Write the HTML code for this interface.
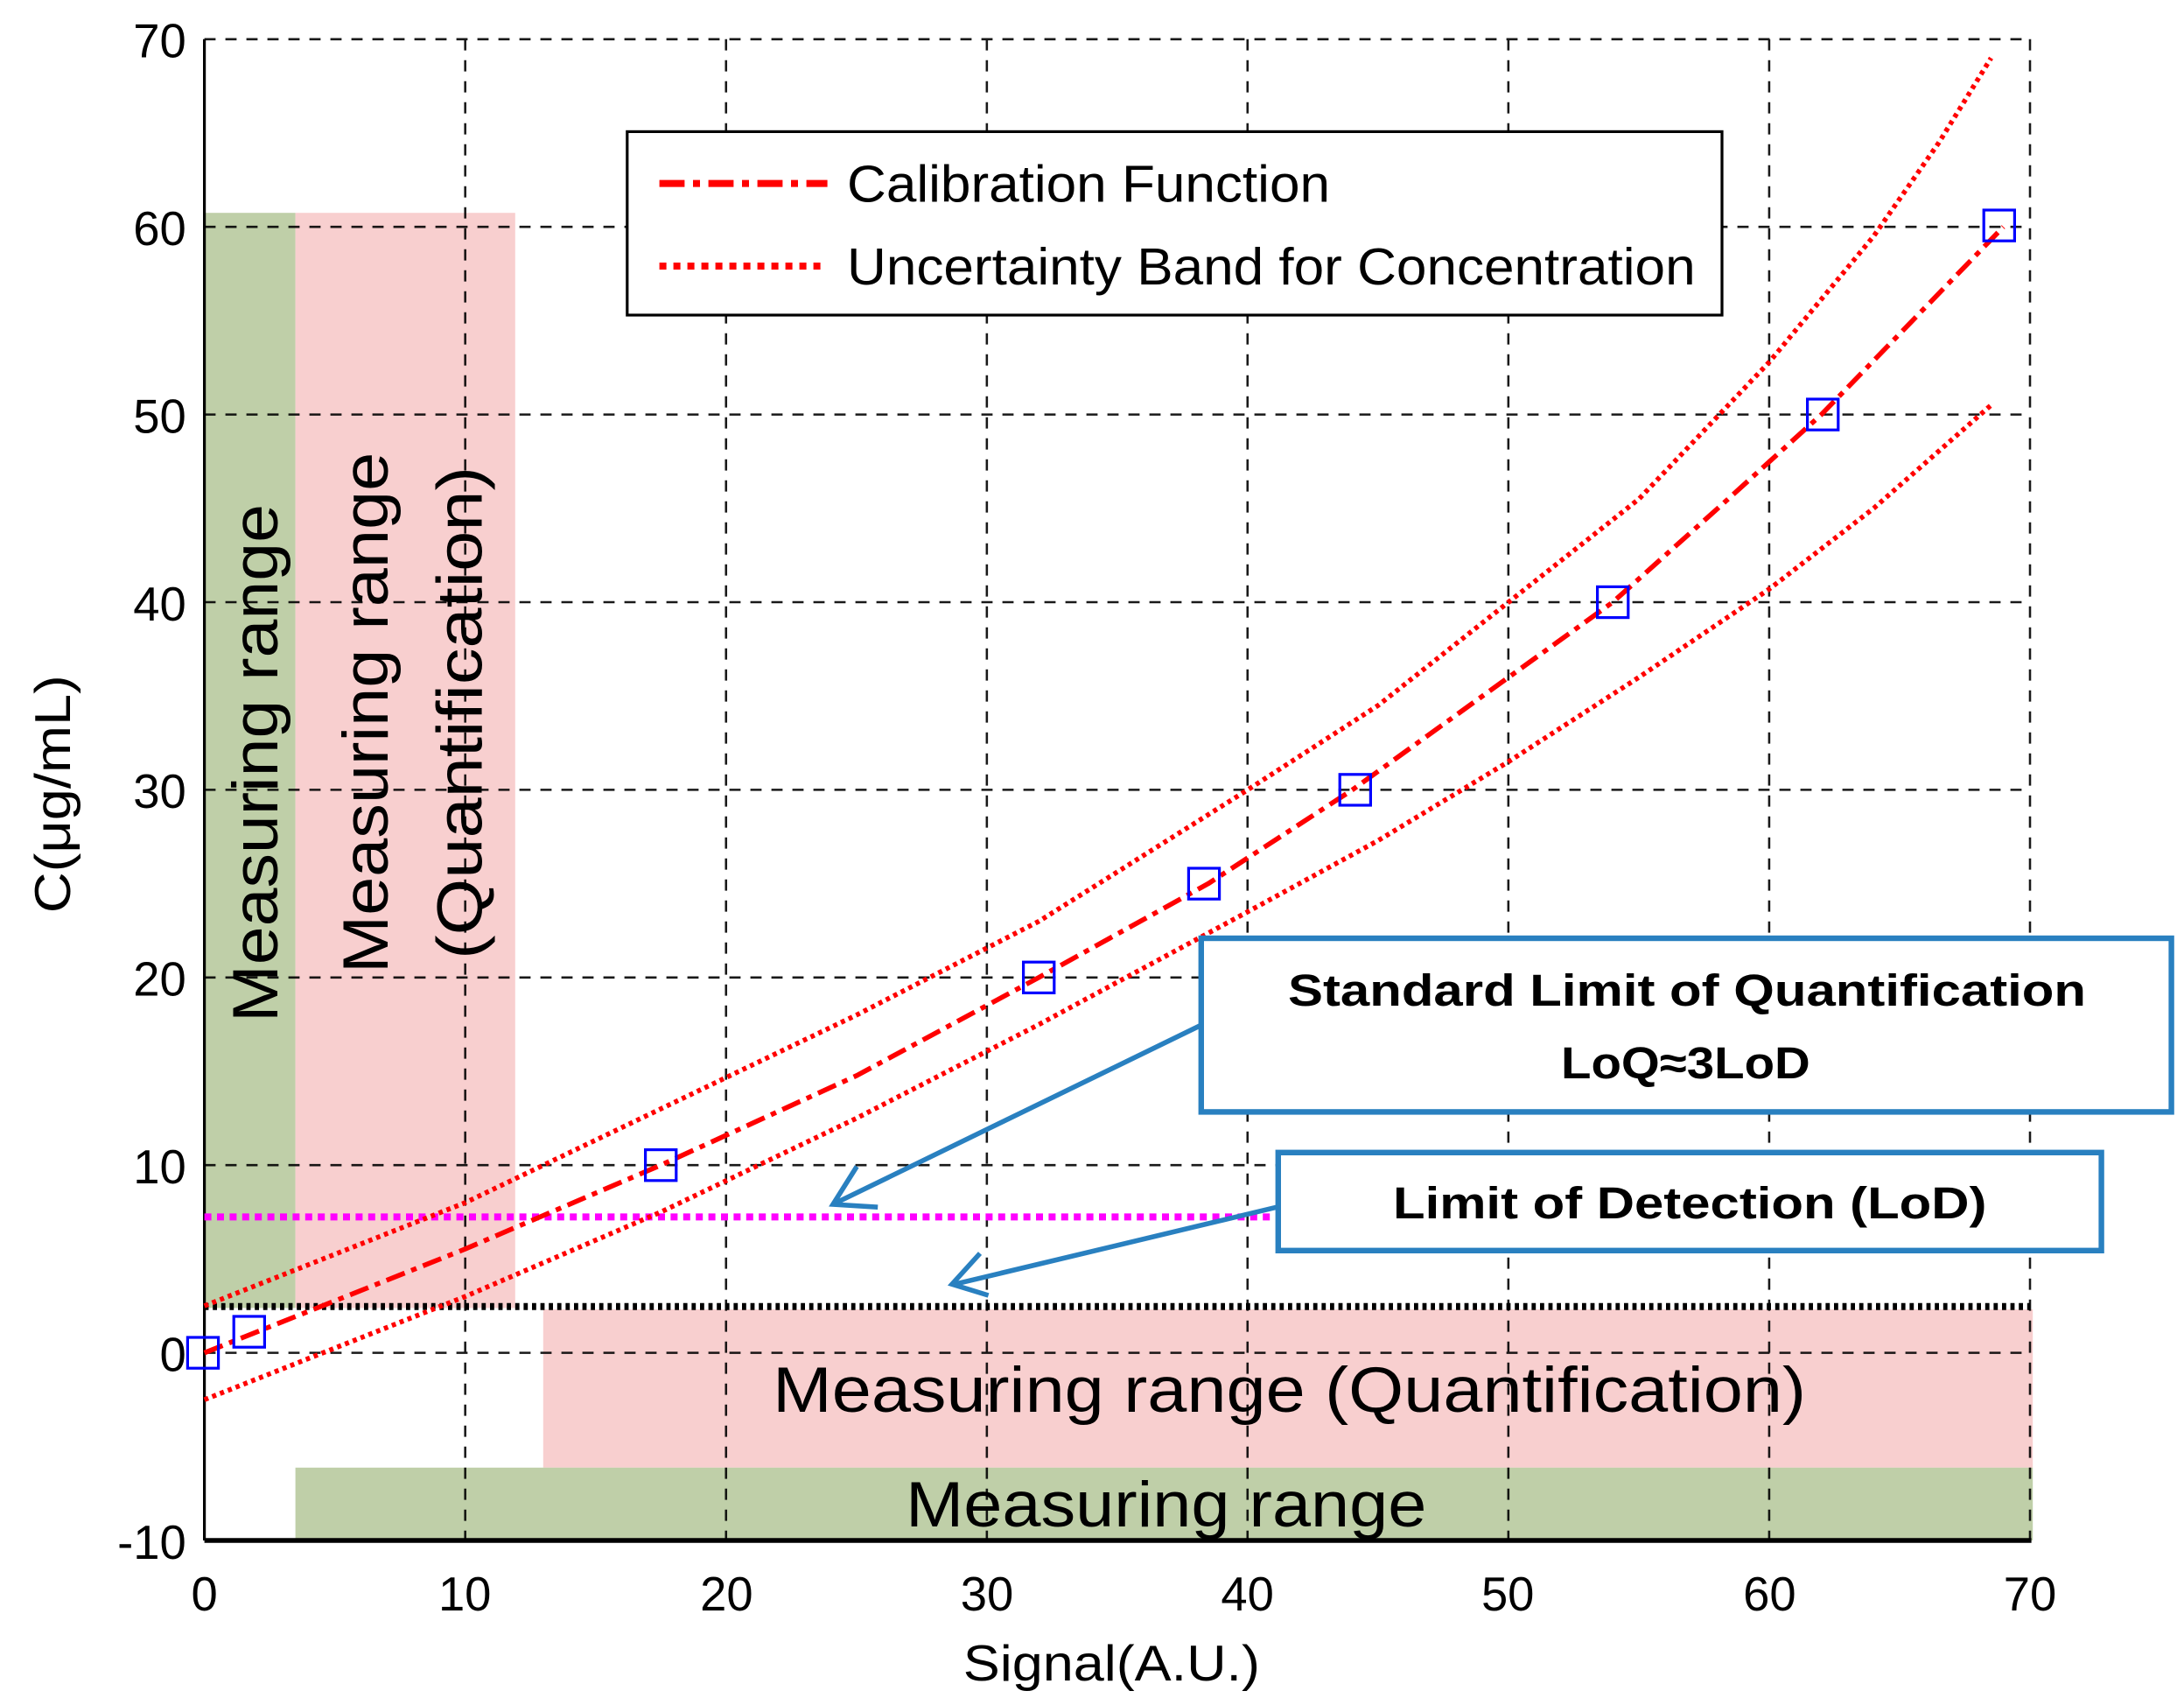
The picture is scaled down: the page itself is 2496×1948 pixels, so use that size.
<!DOCTYPE html>
<html><head><meta charset="utf-8"><style>
html,body{margin:0;padding:0;background:#fff}
svg{display:block}
text{font-family:"Liberation Sans",sans-serif}
</style></head><body>
<svg width="2496" height="1948" viewBox="0 0 1560 1217.5" xmlns="http://www.w3.org/2000/svg">
<rect x="146" y="152" width="65" height="782" fill="#bfcfa8"/>
<rect x="211" y="152" width="157" height="782" fill="#f8cfcf"/>
<rect x="388" y="935" width="1064" height="113" fill="#f8cfcf"/>
<rect x="211" y="1048" width="1241" height="52" fill="#bfcfa8"/>
<g stroke="#000" stroke-width="1.6" stroke-dasharray="8,7" fill="none" opacity="0.9">
<line x1="332.3" y1="28" x2="332.3" y2="1100"/>
<line x1="518.6" y1="28" x2="518.6" y2="1100"/>
<line x1="704.9" y1="28" x2="704.9" y2="1100"/>
<line x1="891.1" y1="28" x2="891.1" y2="1100"/>
<line x1="1077.4" y1="28" x2="1077.4" y2="1100"/>
<line x1="1263.7" y1="28" x2="1263.7" y2="1100"/>
<line x1="1450" y1="28" x2="1450" y2="1100"/>
<line x1="146" y1="28" x2="1450" y2="28"/>
<line x1="146" y1="162" x2="1450" y2="162"/>
<line x1="146" y1="296" x2="1450" y2="296"/>
<line x1="146" y1="430" x2="1450" y2="430"/>
<line x1="146" y1="564" x2="1450" y2="564"/>
<line x1="146" y1="698" x2="1450" y2="698"/>
<line x1="146" y1="832" x2="1450" y2="832"/>
<line x1="146" y1="966" x2="1450" y2="966"/>
</g>
<line x1="146" y1="28" x2="146" y2="1100" stroke="#000" stroke-width="2"/>
<line x1="146" y1="1100" x2="1451" y2="1100" stroke="#000" stroke-width="3.5"/>
<line x1="146" y1="933" x2="1450" y2="933" stroke="#000" stroke-width="5" stroke-dasharray="3,3"/>
<line x1="146" y1="869" x2="910" y2="869" stroke="#ff00ff" stroke-width="5" stroke-dasharray="5,4"/>
<g fill="none" stroke="#f00" stroke-linejoin="round">
<polyline stroke-width="3.5" stroke-dasharray="3,3" points="146,932.5 332.3,858.8 472,791.8 611.8,724.8 742.2,657.8 891.2,564 984.4,503.7 1077.5,430 1170.7,356.3 1263.8,258.5 1338.3,168.7 1385,101.7 1422.2,41.4"/>
<polyline stroke-width="3.5" stroke-dasharray="3,3" points="146,999.5 332.3,925.8 472,865.5 611.8,798.5 742.2,731.5 891.2,651.1 984.4,600.2 1077.5,543.9 1170.7,483.6 1263.8,420.6 1338.3,363 1422.2,289.3"/>
<polyline stroke-width="3.5" stroke-dasharray="14,5,4,5" points="146,966 332,892 472,832 612,768 742,698 863,631 966,564 1059,497 1152,430 1227,363 1301,296 1366,229 1431,162"/>
</g>
<g fill="none" stroke="#00f" stroke-width="2">
<rect x="134" y="955" width="22" height="22"/>
<rect x="167" y="940" width="22" height="22"/>
<rect x="461" y="821" width="22" height="22"/>
<rect x="731" y="687" width="22" height="22"/>
<rect x="849" y="620" width="22" height="22"/>
<rect x="957" y="553" width="22" height="22"/>
<rect x="1141" y="419" width="22" height="22"/>
<rect x="1291" y="285" width="22" height="22"/>
<rect x="1417" y="150" width="22" height="22"/>
</g>
<rect x="448" y="94" width="782" height="131" fill="#fff" stroke="#000" stroke-width="2"/>
<line x1="471" y1="131" x2="591" y2="131" stroke="#f00" stroke-width="5" stroke-dasharray="18,6,5,6"/>
<line x1="471" y1="190" x2="591" y2="190" stroke="#f00" stroke-width="5" stroke-dasharray="5,5"/>
<text x="605" y="144" font-size="37" textLength="345" lengthAdjust="spacingAndGlyphs">Calibration Function</text>
<text x="605" y="203" font-size="37" textLength="606" lengthAdjust="spacingAndGlyphs">Uncertainty Band for Concentration</text>
<g font-size="34" text-anchor="end">
<text x="133" y="41">70</text><text x="133" y="175">60</text><text x="133" y="309">50</text>
<text x="133" y="443">40</text><text x="133" y="577">30</text><text x="133" y="711">20</text>
<text x="133" y="845">10</text><text x="133" y="979">0</text><text x="133" y="1113">-10</text>
</g>
<g font-size="34" text-anchor="middle">
<text x="146" y="1150">0</text><text x="332" y="1150">10</text><text x="519" y="1150">20</text>
<text x="705" y="1150">30</text><text x="891" y="1150">40</text><text x="1077" y="1150">50</text>
<text x="1264" y="1150">60</text><text x="1450" y="1150">70</text>
</g>
<text x="688" y="1200" font-size="36" textLength="212" lengthAdjust="spacingAndGlyphs">Signal(A.U.)</text>
<text transform="translate(50,652) rotate(-90)" font-size="36" textLength="170" lengthAdjust="spacingAndGlyphs">C(μg/mL)</text>
<text transform="translate(198,730) rotate(-90)" font-size="46" textLength="370" lengthAdjust="spacingAndGlyphs">Measuring range</text>
<text transform="translate(277,695) rotate(-90)" font-size="46" textLength="372" lengthAdjust="spacingAndGlyphs">Measuring range</text>
<text transform="translate(344,685) rotate(-90)" font-size="46" textLength="352" lengthAdjust="spacingAndGlyphs">(Quantification)</text>
<text x="552" y="1008" font-size="46" textLength="738" lengthAdjust="spacingAndGlyphs">Measuring range (Quantification)</text>
<text x="647" y="1090" font-size="46" textLength="372" lengthAdjust="spacingAndGlyphs">Measuring range</text>
<rect x="858" y="670" width="693" height="124" fill="#fff" stroke="#2980c0" stroke-width="4"/>
<text x="920" y="718" font-size="32" font-weight="bold" textLength="570" lengthAdjust="spacingAndGlyphs">Standard Limit of Quantification</text>
<text x="1115" y="770" font-size="32" font-weight="bold" textLength="178" lengthAdjust="spacingAndGlyphs">LoQ≈3LoD</text>
<rect x="913" y="823" width="588" height="70" fill="#fff" stroke="#2980c0" stroke-width="4"/>
<text x="995" y="870" font-size="32" font-weight="bold" textLength="424" lengthAdjust="spacingAndGlyphs">Limit of Detection (LoD)</text>
<g stroke="#2980c0" stroke-width="3.5" fill="none">
<line x1="858" y1="732" x2="597" y2="859"/>
<polyline points="612,833 595,860 627,862"/>
<line x1="912" y1="862" x2="682" y2="917"/>
<polyline points="700,895 680,917 706,925"/>
</g>
</svg>
</body></html>
